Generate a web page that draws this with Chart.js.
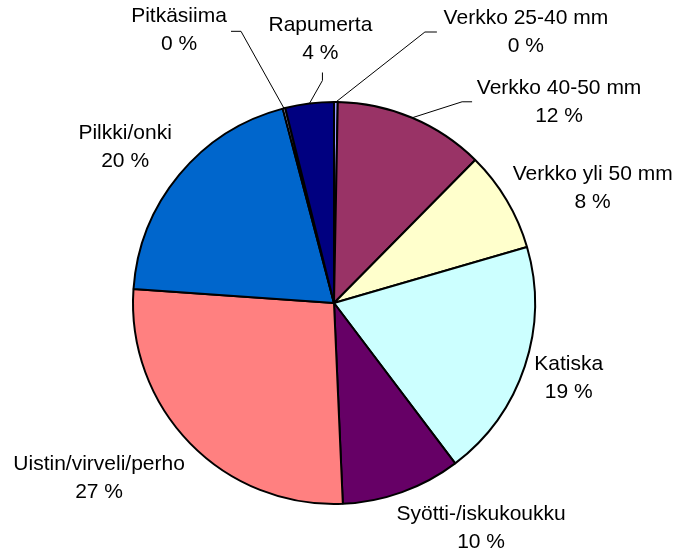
<!DOCTYPE html>
<html>
<head>
<meta charset="utf-8">
<script src="https://cdn.jsdelivr.net/npm/chart.js@4"></script>
<style>
  html, body { margin: 0; padding: 0; background: #fff; }
</style>
</head>
<body>
<canvas id="gearChart" width="677" height="552"></canvas>
<script>
// Catch share by fishing gear (%)
const categories = ['Verkko 25-40 mm', 'Verkko 40-50 mm', 'Verkko yli 50 mm', 'Katiska',
  'Syötti-/iskukoukku', 'Uistin/virveli/perho', 'Pilkki/onki', 'Pitkäsiima', 'Rapumerta'];
const shares = [0.3, 12.1, 8.1, 19.2, 9.6, 26.8, 19.8, 0.2, 3.9];
const sliceColors = ['#9999FF', '#993366', '#FFFFCC', '#CCFFFF', '#660066',
  '#FF8080', '#0066CC', '#CCCCFF', '#000080'];

// where each label sits, relative to the outer middle of its slice
// lead = leader line points (elbow, end) relative to the label centre
const labelSpots = [
  { dx: 190, dy: -70, lead: [[-101, 0], [-89, 0]] },
  { dx: 147, dy: -16, lead: [[-97, 0], [-87, 0]] },
  { dx: 86, dy: -12 },
  { dx: 44, dy: 12 },
  { dx: 79, dy: 36 },
  { dx: -91, dy: 35 },
  { dx: -54, dy: -28 },
  { dx: -105, dy: -78, lead: [[62, 1], [52, 1]] },
  { dx: 11, dy: -64, lead: [[2, 41], [2, 33]] }
];

const total = shares.reduce((a, b) => a + b, 0);

const pieLabels = {
  id: 'pieLabels',
  afterDatasetsDraw(chart) {
    const ctx = chart.ctx;
    const meta = chart.getDatasetMeta(0);
    ctx.save();
    ctx.font = '21px "Liberation Sans", Arial, sans-serif';
    ctx.fillStyle = '#000';
    ctx.strokeStyle = '#000';
    ctx.lineWidth = 1;
    ctx.textAlign = 'center';
    ctx.textBaseline = 'middle';
    meta.data.forEach((arc, i) => {
      const p = arc.getProps(['x', 'y', 'startAngle', 'endAngle', 'outerRadius'], true);
      const mid = (p.startAngle + p.endAngle) / 2;
      const ex = p.x + Math.cos(mid) * p.outerRadius;
      const ey = p.y + Math.sin(mid) * p.outerRadius;
      const spot = labelSpots[i];
      const cx = ex + spot.dx;
      const cy = ey + spot.dy;
      if (spot.lead) {
        ctx.beginPath();
        ctx.moveTo(ex, ey);
        spot.lead.forEach(pt => ctx.lineTo(cx + pt[0], cy + pt[1]));
        ctx.stroke();
      }
      const pct = Math.round(shares[i] / total * 100);
      ctx.fillText(categories[i], cx, cy - 14);
      ctx.fillText(pct + ' %', cx, cy + 14);
    });
    ctx.restore();
  }
};

new Chart(document.getElementById('gearChart'), {
  type: 'pie',
  data: {
    labels: categories,
    datasets: [{
      data: shares,
      backgroundColor: sliceColors,
      borderColor: '#000',
      borderWidth: 2
    }]
  },
  options: {
    responsive: false,
    animation: false,
    layout: {
      padding: { left: 132, right: 141, top: 101, bottom: 47 }
    },
    plugins: {
      legend: { display: false },
      tooltip: { enabled: false }
    }
  },
  plugins: [pieLabels]
});
</script>
</body>
</html>
